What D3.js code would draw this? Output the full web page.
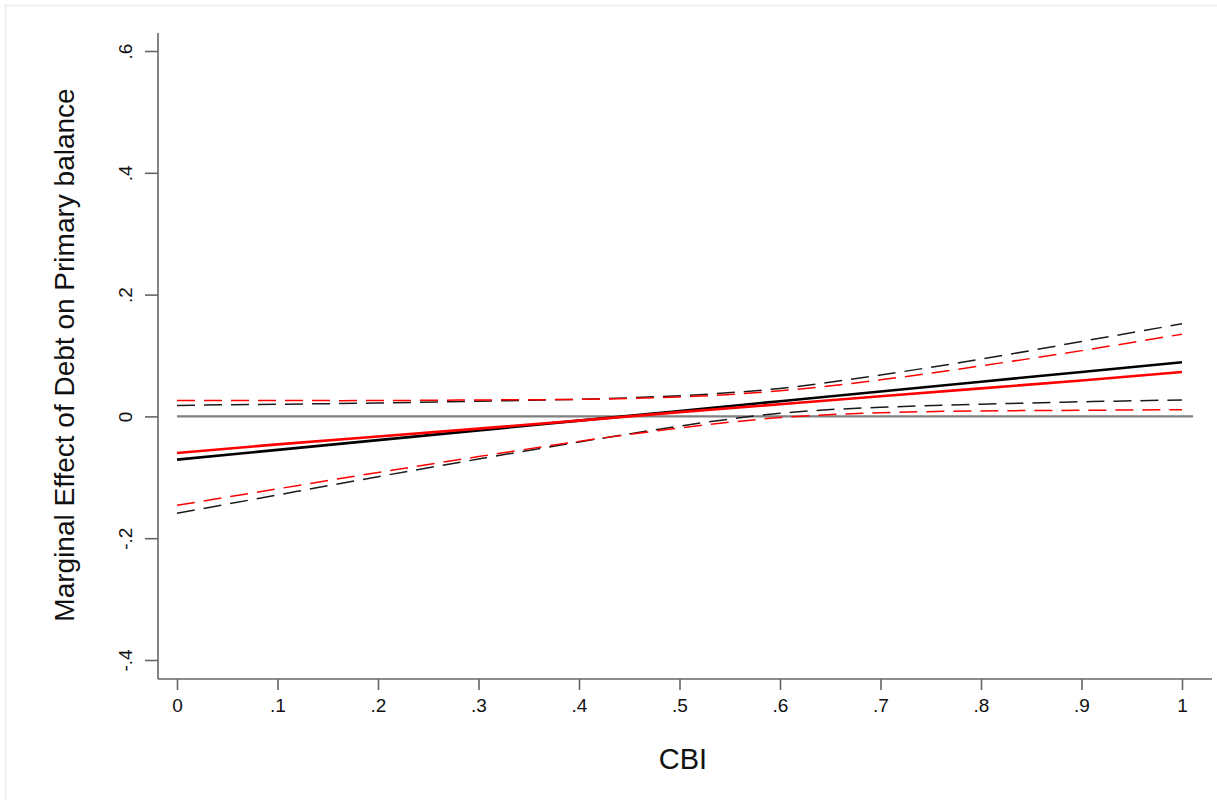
<!DOCTYPE html>
<html>
<head>
<meta charset="utf-8">
<script src="https://cdn.jsdelivr.net/npm/d3@7"></script>
<style>
  html, body { margin: 0; padding: 0; background: #fff; }
  svg { display: block; }
  text { font-family: "Liberation Sans", Arial, sans-serif; fill: #111; }
</style>
</head>
<body>
<svg id="chart" width="1217" height="800"></svg>
<script>
// ---- data ----
const cbi = [0, 0.1, 0.2, 0.3, 0.4, 0.5, 0.6, 0.7, 0.8, 0.9, 1.0];
const blackMean  = [-0.071, -0.055, -0.039, -0.023, -0.007, 0.009, 0.025, 0.041, 0.057, 0.073, 0.089];
const blackUpper = [0.018, 0.020, 0.022, 0.025, 0.028, 0.034, 0.046, 0.068, 0.094, 0.123, 0.152];
const blackLower = [-0.159, -0.129, -0.099, -0.070, -0.042, -0.016, 0.005, 0.015, 0.020, 0.024, 0.027];
const redMean    = [-0.060, -0.046, -0.033, -0.020, -0.007, 0.007, 0.020, 0.033, 0.046, 0.059, 0.073];
const redUpper   = [0.026, 0.026, 0.026, 0.027, 0.028, 0.032, 0.042, 0.060, 0.083, 0.108, 0.135];
const redLower   = [-0.146, -0.119, -0.092, -0.066, -0.041, -0.019, -0.002, 0.006, 0.009, 0.010, 0.011];

const xTicks = [0, 0.1, 0.2, 0.3, 0.4, 0.5, 0.6, 0.7, 0.8, 0.9, 1];
const xTickLabels = ["0", ".1", ".2", ".3", ".4", ".5", ".6", ".7", ".8", ".9", "1"];
const yTicks = [-0.4, -0.2, 0, 0.2, 0.4, 0.6];
const yTickLabels = ["-.4", "-.2", "0", ".2", ".4", ".6"];
const refLineX = [0, 1.011];
const xTitle = "CBI";
const yTitle = "Marginal Effect of Debt on Primary balance";

// ---- layout ----
const svg = d3.select("#chart");
const x = d3.scaleLinear().domain([0, 1]).range([177, 1182]);
const y = d3.scaleLinear().domain([-0.4, 0.6]).range([660, 51]);
const axisX0 = 158, axisX1 = 1212, axisY0 = 33, axisY1 = 679;

// outer frame
svg.append("rect").attr("x", 5.5).attr("y", 5.5).attr("width", 1230).attr("height", 820)
  .attr("fill", "#fff").attr("stroke", "#efefef").attr("stroke-width", 2);

// x axis
const gx = svg.append("g").attr("transform", `translate(0,${axisY1})`)
  .call(d3.axisBottom(x).tickValues(xTicks).tickSize(11).tickPadding(9)
    .tickFormat((d, i) => xTickLabels[i]));
gx.select(".domain").remove();
gx.append("line").attr("x1", axisX0).attr("x2", axisX1).attr("y1", 0).attr("y2", 0)
  .attr("stroke", "#666").attr("stroke-width", 1.6);
gx.selectAll(".tick line").attr("stroke", "#666").attr("stroke-width", 1.6);
gx.selectAll(".tick text").attr("font-size", 19).attr("fill", "#111")
  .attr("font-family", "Liberation Sans, Arial, sans-serif");

// y axis
const gy = svg.append("g").attr("transform", `translate(${axisX0},0)`)
  .call(d3.axisLeft(y).tickValues(yTicks).tickSize(13).tickPadding(0)
    .tickFormat((d, i) => yTickLabels[i]));
gy.select(".domain").remove();
gy.append("line").attr("x1", 0).attr("x2", 0).attr("y1", axisY0).attr("y2", axisY1)
  .attr("stroke", "#666").attr("stroke-width", 1.6);
gy.selectAll(".tick line").attr("stroke", "#666").attr("stroke-width", 1.6);
gy.selectAll(".tick text")
  .attr("font-size", 19).attr("fill", "#111")
  .attr("font-family", "Liberation Sans, Arial, sans-serif")
  .attr("x", null).attr("dy", null)
  .attr("text-anchor", "middle")
  .attr("transform", "translate(-26,0) rotate(-90)");

// zero reference line
svg.append("line")
  .attr("x1", x(refLineX[0])).attr("x2", x(refLineX[1]))
  .attr("y1", y(0)).attr("y2", y(0))
  .attr("stroke", "#808080").attr("stroke-width", 2.2);

// series
const lineLin = d3.line().x((d, i) => x(cbi[i])).y(d => y(d));
const lineSmooth = d3.line().x((d, i) => x(cbi[i])).y(d => y(d)).curve(d3.curveNatural);

const series = [
  { v: blackUpper, color: "#1a1a1a", dash: "18,9", w: 1.5, gen: lineSmooth },
  { v: blackLower, color: "#1a1a1a", dash: "18,9", w: 1.5, gen: lineSmooth },
  { v: redUpper,   color: "#ff0000", dash: "18,9", w: 1.5, gen: lineSmooth },
  { v: redLower,   color: "#ff0000", dash: "18,9", w: 1.5, gen: lineSmooth },
  { v: blackMean,  color: "#000000", dash: null,  w: 2.6, gen: lineLin },
  { v: redMean,    color: "#ff0000", dash: null,  w: 2.6, gen: lineLin }
];
series.forEach(s => {
  svg.append("path").attr("d", s.gen(s.v))
    .attr("fill", "none").attr("stroke", s.color).attr("stroke-width", s.w)
    .attr("stroke-dasharray", s.dash);
});

// titles
svg.append("text").attr("x", 683).attr("y", 769).attr("text-anchor", "middle")
  .attr("font-size", 29).text(xTitle);
svg.append("text").attr("transform", "translate(74,355) rotate(-90)")
  .attr("text-anchor", "middle").attr("font-size", 28).text(yTitle);
</script>
</body>
</html>
